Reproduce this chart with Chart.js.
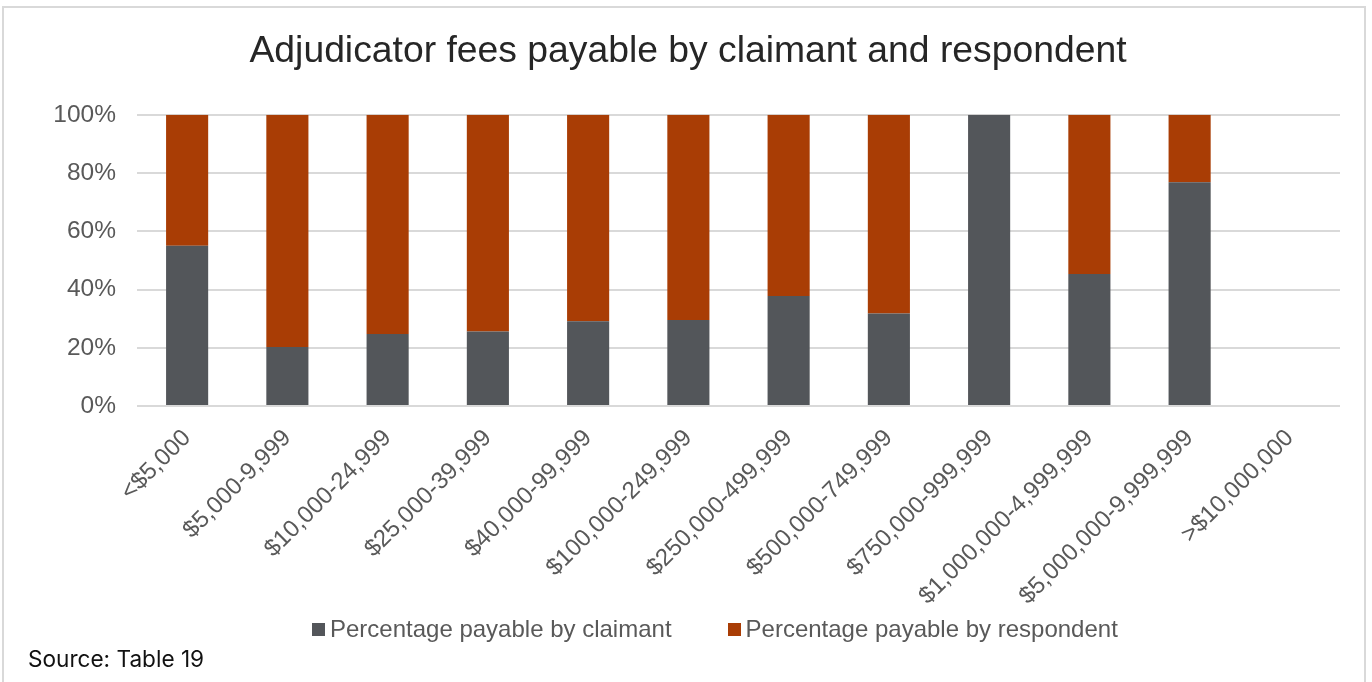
<!DOCTYPE html>
<html>
<head>
<meta charset="utf-8">
<script src="https://cdn.jsdelivr.net/npm/chart.js@4.4.0/dist/chart.umd.min.js"></script>
<style>
  html, body { margin: 0; padding: 0; background: #fff; }
  body { width: 1372px; height: 682px; position: relative; overflow: hidden; }
  .frame { position: absolute; left: 2px; top: 6px; width: 1364px; height: 720px; border: 2px solid #d9d9d9; box-sizing: border-box; }
  #wrap { position: absolute; left: 0; top: 0; width: 1372px; height: 682px; }
  #legend { position: absolute; left: 312px; top: 615px; height: 28px; display: flex; gap: 56px;
    font-family: "Liberation Sans", Arial, sans-serif; font-size: 24px; line-height: 28px; color: #595959; }
  #legend .item { display: flex; align-items: center; white-space: nowrap; }
  #legend .box { width: 13px; height: 13px; margin-right: 5px; }
  .source { position: absolute; left: 28px; top: 645px; font-family: Inter, sans-serif; font-size: 22.6px; color: #111; }
</style>
</head>
<body>
<div class="frame"></div>
<div id="wrap"><canvas id="feesChart" width="1372" height="682"></canvas></div>
<div id="legend"></div>
<div class="source">Source: Table 19</div>
<script>
// Claim size bands
const categories = ['<$5,000', '$5,000-9,999', '$10,000-24,999', '$25,000-39,999', '$40,000-99,999',
  '$100,000-249,999', '$250,000-499,999', '$500,000-749,999', '$750,000-999,999',
  '$1,000,000-4,999,999', '$5,000,000-9,999,999', '>$10,000,000'];

// Share of adjudicator fees (%)
const claimantPct = [55.0, 20.3, 24.7, 25.6, 29.1, 29.5, 37.8, 31.8, 100, 45.3, 76.8, null];
const respondentPct = [45.0, 79.7, 75.3, 74.4, 70.9, 70.5, 62.2, 68.2, 0, 54.7, 23.2, null];

const yTicks = [0, 20, 40, 60, 80, 100];

const textGrey = '#595959';
const font = '"Liberation Sans", Arial, sans-serif';

const chart = new Chart(document.getElementById('feesChart'), {
  type: 'bar',
  data: {
    labels: categories,
    datasets: [
      {
        label: 'Percentage payable by claimant',
        data: claimantPct,
        backgroundColor: '#53565a',
        barPercentage: 0.42,
        categoryPercentage: 1
      },
      {
        label: 'Percentage payable by respondent',
        data: respondentPct,
        backgroundColor: '#a93d05',
        barPercentage: 0.42,
        categoryPercentage: 1
      }
    ]
  },
  options: {
    responsive: false,
    animation: false,
    devicePixelRatio: 1,
    layout: {
      padding: { left: 36, right: 32, top: 0, bottom: 76 }
    },
    plugins: {
      title: {
        display: true,
        text: 'Adjudicator fees payable by claimant and respondent',
        color: '#262626',
        font: { family: font, size: 37.3, weight: 'normal' },
        padding: { top: 29, bottom: 41 }
      },
      legend: { display: false },
      tooltip: { enabled: false }
    },
    scales: {
      x: {
        stacked: true,
        grid: { display: false },
        border: { display: false },
        ticks: {
          color: textGrey,
          minRotation: 45,
          maxRotation: 45,
          padding: 10,
          font: { family: font, size: 24 }
        },
        afterFit: function(scale) { scale.height = 200; }
      },
      y: {
        stacked: true,
        min: 0,
        max: 100,
        afterBuildTicks: function(scale) { scale.ticks = yTicks.map(v => ({ value: v })); },
        grid: { color: '#d9d9d9', lineWidth: 2, drawTicks: false },
        border: { display: false },
        ticks: {
          color: textGrey,
          padding: 21,
          font: { family: font, size: 24.5 },
          callback: function(value) { return value + '%'; }
        },
        afterFit: function(scale) { scale.width = 101; }
      }
    }
  }
});

// HTML legend from the chart's own legend items
const legendEl = document.getElementById('legend');
Chart.defaults.plugins.legend.labels.generateLabels(chart).forEach(item => {
  const el = document.createElement('div');
  el.className = 'item';
  const box = document.createElement('span');
  box.className = 'box';
  box.style.background = item.fillStyle;
  el.appendChild(box);
  el.appendChild(document.createTextNode(item.text));
  legendEl.appendChild(el);
});
</script>
</body>
</html>
